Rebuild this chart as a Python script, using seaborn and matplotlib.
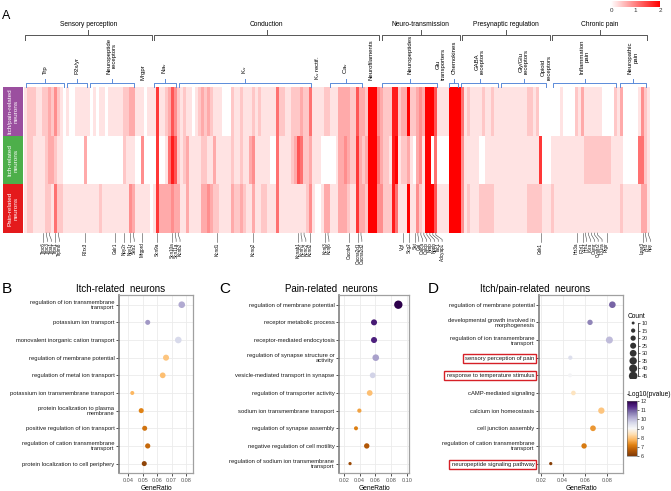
import numpy as np
import pandas as pd
import matplotlib
matplotlib.use("Agg")
import matplotlib.pyplot as plt
import seaborn as sns
from matplotlib import transforms
from matplotlib.colors import LinearSegmentedColormap, Normalize
from matplotlib.cm import ScalarMappable
from matplotlib.patches import Rectangle
from matplotlib.ticker import FormatStrFormatter

plt.rcParams["font.family"] = ["Liberation Sans", "DejaVu Sans"]

# ---------------- panel A data ----------------
# one digit per gene column, 0..9 -> expression 0..2
row_names = ["Itch/pain-related\nneurons", "Itch-related\nneurons", "Pain-related\nneurons"]
row_colors = ["#9B4F9F", "#4DAF4A", "#E41A1C"]
row_itchpain = ("1222112232" "4210100111" "1101011011" "1112233111" "0111711236"
                "4212110123" "2321110002" "1121112121" "1111522112" "2232251111"
                "2211133332" "2633299943" "2228823392" "2343999611" "1199995121"
                "1112112111" "1111111122" "1200000001" "0000213111" "1110000213"
                "000001421")
row_itch = ("1221111233" "2110000000" "3000000000" "0002111004" "0000700158"
            "6212311112" "2113111112" "1121134111" "1100511112" "3652231110"
            "0000133432" "2732399953" "2218912231" "0341990500" "0099994111"
            "1100111111" "1111111111" "1170001111" "1111111222" "2222221111"
            "000005521")
row_pain = ("1221111221" "5221111111" "1111121111" "1111143111" "1101733334"
            "3311311113" "3432211113" "2232113112" "2111511111" "1111241001"
            "3311133321" "1733299944" "2228511191" "1421999611" "1199994121"
            "1122222111" "1111111122" "2221112111" "1111111111" "1111111112"
            "111111331")

# top level groups: name, first column, last column (exclusive)
groups = ["Sensory perception", "Conduction", "Neuro-transmission", "Presynaptic regulation", "Chronic pain"]
group_start = [0, 43, 119, 146, 176]
group_end = [43, 119, 146, 176, 208.3]

# sub groups with a bracket
subs = ["Trp", "P2x/yr", "Neuropeptide\nreceptors", "Na$_\\mathrm{v}$", "K$_\\mathrm{v}$", "Ca$_\\mathrm{v}$",
        "Neuropeptides", "Chemokines", "GABA\nreceptors", "Gly/Glu\nreceptors", "Inflammation\npain",
        "Neuropathic\npain"]
sub_start = [0.3, 14, 21.7, 43, 51.3, 101.7, 119.3, 141.7, 145.7, 159, 176.3, 198.7]
sub_end = [13.7, 21.3, 37, 51, 96, 113, 138.3, 145.3, 158.7, 174.7, 198, 208]
# sub groups without a bracket
solo = ["Mrgpr", "K$_\\mathrm{v}$ rectif.", "Neurofilaments", "Glu\ntransporters", "Opioid\nreceptors"]
solo_col = [39.7, 98, 116, 139.3, 174.3]

genes = ["Trpc6", "Trpc3", "Trpa1", "Trpv1", "Trpm8", "P2rx3", "Galr1", "Npy2r", "Npy1r", "Sstr2",
         "Mrgprd", "Scn9a", "Scn10a", "Scn11a", "Kcnb2", "Kcnd1", "Kcnq2", "Kcnab1", "Kcnh1", "Kcnc2",
         "Kcnd2", "Kcnj3", "Kcnj6", "Cacnb4", "Cacna2d1", "Cacna2d2", "Vgf", "Scg2", "Sst", "Gal",
         "Calca", "Calcb", "Nmb", "Nppb", "Tac1", "Adcyap1", "Grik1", "Htr3a", "F2rl1", "Hrh1",
         "Il6ra", "Osmr", "Cysltr2", "Il31ra", "Ptgir", "Lpar3", "Atf3", "Npy"]
gene_col = [6, 7, 8, 10, 11, 20, 30, 33, 35, 36, 39, 44, 49, 50, 51, 64, 76, 91, 92, 93,
            95, 100, 101, 108, 111, 112, 126, 128, 130, 131, 132, 133, 134, 135, 136, 137, 172, 184, 186, 187,
            188, 189, 190, 191, 194, 206, 207, 208]

# ---------------- panels B-D data ----------------
b_terms = ["regulation of ion transmembrane\ntransport", "potassium ion transport",
           "monovalent inorganic cation transport", "regulation of membrane potential",
           "regulation of metal ion transport", "potassium ion transmembrane transport",
           "protein localization to plasma\nmembrane", "positive regulation of ion transport",
           "regulation of cation transmembrane\ntransport", "protein localization to cell periphery"]
b_ratio = [0.0771, 0.0535, 0.0747, 0.0662, 0.0639, 0.0428, 0.0490, 0.0514, 0.0535, 0.0511]
b_count = [29, 19, 29, 25, 23, 14, 19, 19, 20, 19]
b_logp = [10.2, 10.4, 9.6, 8.0, 7.9, 7.8, 7.2, 7.0, 6.85, 6.2]

c_terms = ["regulation of membrane potential", "receptor metabolic process", "receptor-mediated endocytosis",
           "regulation of synapse structure or\nactivity", "vesicle-mediated transport in synapse",
           "regulation of transporter activity", "sodium ion transmembrane transport",
           "regulation of synapse assembly", "negative regulation of cell motility",
           "regulation of sodium ion transmembrane\ntransport"]
c_ratio = [0.0893, 0.0583, 0.0583, 0.0605, 0.0566, 0.0528, 0.0396, 0.0353, 0.0490, 0.0277]
c_count = [43, 25, 25, 29, 23, 23, 15, 14, 21, 11]
c_logp = [12.0, 11.6, 11.5, 10.3, 9.7, 7.9, 7.55, 7.15, 6.6, 6.35]

d_terms = ["regulation of membrane potential", "developmental growth involved in\nmorphogenesis",
           "regulation of ion transmembrane\ntransport", "sensory perception of pain",
           "response to temperature stimulus", "cAMP-mediated signaling", "calcium ion homeostasis",
           "cell junction assembly", "regulation of cation transmembrane\ntransport",
           "neuropeptide signaling pathway"]
d_ratio = [0.0851, 0.0648, 0.0824, 0.0469, 0.0466, 0.0497, 0.0751, 0.0675, 0.0594, 0.0291]
d_count = [29, 21, 32, 15, 14, 17, 27, 23, 21, 11]
d_logp = [10.9, 10.6, 10.0, 9.5, 9.05, 8.5, 8.0, 7.45, 7.1, 6.1]
d_boxed = ["sensory perception of pain", "response to temperature stimulus", "neuropeptide signaling pathway"]

legend_counts = [10, 15, 20, 25, 30, 35, 40, 45]
logp_ticks = [6, 7, 8, 9, 10, 11, 12]

# ---------------- layout helpers ----------------
W, H = 671, 491
fig = plt.figure(figsize=(W / 100, H / 100), dpi=100)


def fx(px):
    return px / W


def fy(py):
    return 1 - py / H


def box(l, t, r, b):
    return [fx(l), fy(b), (r - l) / W, (b - t) / H]


# ---------------- panel A ----------------
hm = pd.DataFrame([[int(ch) / 4.5 for ch in s] for s in (row_itchpain, row_itch, row_pain)], index=row_names)
ax_hm = fig.add_axes(box(24, 87, 650, 233))
cax = fig.add_axes(box(611, 1, 660, 6.5))
reds = LinearSegmentedColormap.from_list("wr", ["#FFFFFF", "#FF0000"])
sns.heatmap(hm, ax=ax_hm, cmap=reds, vmin=0, vmax=2, cbar_ax=cax,
            cbar_kws={"orientation": "horizontal", "ticks": [0, 1, 2]},
            xticklabels=False, yticklabels=False)
cax.tick_params(labelsize=4.5, length=0, pad=1, colors="#333333")

ax_side = fig.add_axes(box(3, 87, 23, 233))
ax_side.barh(np.arange(3), 1, height=1, color=row_colors)
ax_side.set_ylim(2.5, -0.5)
ax_side.set_xlim(0, 1)
ax_side.axis("off")
for i, name in enumerate(row_names):
    ax_side.text(0.5, i, name, rotation=90, ha="center", va="center", color="white",
                 fontsize=4.6, linespacing=1.1)

blend = transforms.blended_transform_factory(ax_hm.transData, fig.transFigure)
gc = "#555555"
for name, s, e in zip(groups, group_start, group_end):
    ax_hm.plot([s + 0.4, s + 0.4, e - 0.4, e - 0.4], [fy(39.5), fy(35), fy(35), fy(39.5)],
               color=gc, lw=0.7, transform=blend, clip_on=False)
    m = (s + e) / 2
    ax_hm.plot([m, m], [fy(35), fy(30)], color=gc, lw=0.7, transform=blend, clip_on=False)
    ax_hm.text(m, fy(24.5), name, ha="center", va="center", fontsize=4.8, transform=blend)

bc = "#5B8BD9"
for name, s, e in zip(subs, sub_start, sub_end):
    ax_hm.plot([s + 0.3, s + 0.3, e - 0.3, e - 0.3], [fy(86.5), fy(82.5), fy(82.5), fy(86.5)],
               color=bc, lw=0.7, transform=blend, clip_on=False)
    m = (s + e) / 2
    ax_hm.plot([m, m], [fy(82.5), fy(78.5)], color=bc, lw=0.7, transform=blend, clip_on=False)
    ax_hm.text(m, fy(74), name, ha="center", va="bottom", rotation=90, fontsize=4.3,
               linespacing=1.05, transform=blend)
for name, c in zip(solo, solo_col):
    ax_hm.text(c, fy(80), name, ha="center", va="bottom", rotation=90, fontsize=4.3,
               linespacing=1.05, transform=blend)

# gene labels spread so they do not collide
label_x = []
for c in gene_col:
    pos = c + 0.5
    if label_x and pos < label_x[-1] + 1.3:
        pos = label_x[-1] + 1.3
    label_x.append(pos)
for g, c, lx in zip(genes, gene_col, label_x):
    ax_hm.plot([c + 0.5, c + 0.5, lx, lx], [fy(233), fy(235), fy(239.5), fy(241.5)],
               color="#444444", lw=0.4, transform=blend, clip_on=False)
    ax_hm.text(lx, fy(242.5), g, rotation=90, ha="center", va="top", fontsize=3.3, transform=blend)

fig.text(fx(2), fy(16), "A", fontsize=9, va="center", ha="left")

# ---------------- panels B-D ----------------
pal = "PuOr"
pnorm = (6, 12)
size_range = (4.5, 38)
size_norm = (10, 45)


def dotplot(l, r, terms, ratio, count, logp, xlim, xticks):
    ax = fig.add_axes(box(l, 295, r, 473.3))
    df = pd.DataFrame({"term": terms, "GeneRatio": ratio, "Count": count, "logp": logp})
    df["pos"] = np.arange(len(df))
    sns.scatterplot(data=df, x="GeneRatio", y="pos", hue="logp", size="Count", palette=pal,
                    hue_norm=pnorm, sizes=size_range, size_norm=size_norm, legend=False,
                    linewidth=0, ax=ax, zorder=3)
    ax.set_ylim(len(df) - 0.45, -0.55)
    ax.set_xlim(*xlim)
    ax.set_yticks(df["pos"])
    ax.set_yticklabels(df["term"])
    ax.set_xticks(xticks)
    ax.xaxis.set_major_formatter(FormatStrFormatter("%.2f"))
    ax.set_facecolor("white")
    ax.grid(True, color="#EBEBEB", lw=0.6)
    ax.set_axisbelow(True)
    for sp in ax.spines.values():
        sp.set_color("#A0A0A0")
        sp.set_linewidth(0.9)
    ax.spines["left"].set_color("#808080")
    ax.spines["left"].set_linewidth(1.2)
    ax.tick_params(axis="y", labelsize=4.2, length=2, width=0.6, pad=1.5, color="#333333",
                   labelcolor="#1A1A1A")
    ax.tick_params(axis="x", labelsize=4, length=2, width=0.6, pad=1.5, color="#333333",
                   labelcolor="#555555")
    for t in ax.get_yticklabels():
        t.set_linespacing(1.0)
    ax.set_xlabel("GeneRatio", fontsize=4.8, labelpad=1.5)
    ax.set_ylabel("")
    return ax


ax_b = dotplot(119.3, 193, b_terms, b_ratio, b_count, b_logp, (0.0338, 0.0849),
               [0.04, 0.05, 0.06, 0.07, 0.08])
ax_c = dotplot(339.3, 409.3, c_terms, c_ratio, c_count, c_logp, (0.014, 0.1033),
               [0.02, 0.04, 0.06, 0.08, 0.10])
ax_d = dotplot(539.3, 622.7, d_terms, d_ratio, d_count, d_logp, (0.0187, 0.0945),
               [0.02, 0.04, 0.06, 0.08])

fig.text(fx(121), fy(288.5), "Itch-related  neurons", ha="center", va="center", fontsize=7)
fig.text(fx(331), fy(288.5), "Pain-related  neurons", ha="center", va="center", fontsize=7)
fig.text(fx(535), fy(288.5), "Itch/pain-related  neurons", ha="center", va="center", fontsize=7)
fig.text(fx(2), fy(289), "B", fontsize=11, va="center", ha="left")
fig.text(fx(219), fy(289), "C", fontsize=11, va="center", ha="left")
fig.text(fx(428), fy(289), "D", fontsize=11, va="center", ha="left")

# size legend
ax_leg = fig.add_axes(box(628, 320, 638.3, 379))
sns.scatterplot(x=np.zeros(len(legend_counts)), y=legend_counts, size=legend_counts, sizes=size_range,
                size_norm=size_norm, color="#333333", linewidth=0, legend=False, ax=ax_leg)
ax_leg.set_xlim(-1, 1)
ax_leg.set_ylim(47, 8)
for k in ["left", "top", "bottom"]:
    ax_leg.spines[k].set_visible(False)
ax_leg.spines["right"].set_bounds(10, 45)
ax_leg.spines["right"].set_linewidth(0.6)
ax_leg.spines["right"].set_color("#333333")
ax_leg.set_xticks([])
ax_leg.yaxis.tick_right()
ax_leg.set_yticks(legend_counts)
ax_leg.tick_params(axis="y", labelsize=4, length=1.5, width=0.5, pad=1, colors="#333333")
ax_leg.set_facecolor("none")
fig.text(fx(627.5), fy(316.5), "Count", fontsize=4.8, ha="left", va="center")

# colour legend
cax2 = fig.add_axes(box(627, 401, 637, 456))
cb = fig.colorbar(ScalarMappable(norm=Normalize(*pnorm), cmap=pal), cax=cax2, ticks=logp_ticks)
cb.outline.set_linewidth(0.4)
cb.outline.set_edgecolor("#666666")
cax2.tick_params(labelsize=4, length=1.5, width=0.5, pad=1, colors="#333333")
fig.text(fx(627), fy(394.5), "-Log10(pvalue)", fontsize=4.8, ha="left", va="center")

# red boxes around highlighted terms
fig.canvas.draw()
for lab in ax_d.get_yticklabels():
    if lab.get_text() in d_boxed:
        bb = lab.get_window_extent()
        fig.add_artist(Rectangle((bb.x0 - 2.5, bb.y0 - 2), bb.width + 4, bb.height + 4,
                                 transform=transforms.IdentityTransform(), fill=False,
                                 edgecolor="#D62027", lw=1.0))

fig.savefig("out.png", dpi=100)
